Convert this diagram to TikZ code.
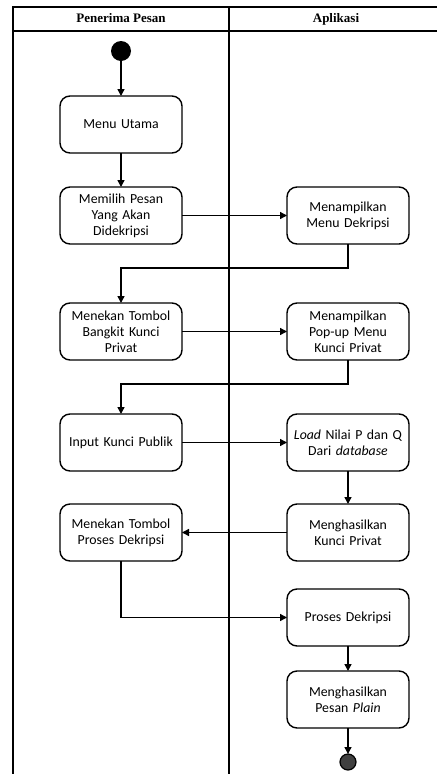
\documentclass[tikz,border=0pt]{standalone}
\usepackage{fontspec}
\setmainfont{Carlito}
\newfontfamily\headfont{Liberation Serif}
\usetikzlibrary{positioning,arrows.meta}

\begin{document}
\begin{tikzpicture}[x=1pt,y=-1pt,font=\fontsize{13.8}{16}\selectfont,
      act/.style={draw,rounded corners=10pt,line width=1.4pt,outer sep=0pt,text width=118pt,minimum width=122pt,minimum height=57pt,align=center,inner sep=2pt,text=black},
      head/.style={font=\headfont\bfseries\fontsize{13}{15}\selectfont,text height=9pt,text depth=2pt},
      arr/.style={-{Triangle[length=7pt,width=7pt]},line width=1.4pt},
      lane/.style={line width=1.7pt}]
    \useasboundingbox (0,0) rectangle (437,774);
    % swimlanes
    \draw[lane] (13,774) -- (13,7) -- (437,7);
    \draw[lane] (13,31) -- (437,31);
    \draw[lane] (229,7) -- (229,774);
    \node[head] (h1) at (121,19) {Penerima Pesan};
    \node[head] (h2) at (336,19) {Aplikasi};
    % penerima pesan
    \node[circle,fill=black,minimum size=20pt,inner sep=0pt,outer sep=0pt] (start) at (121,51) {};
    \node[act,below=35pt of start] (m1) {Menu Utama};
    \node[act,below=34pt of m1] (m2) {Memilih Pesan\\Yang Akan\\Didekripsi};
    \node[act,below=59pt of m2] (m3) {Menekan Tombol\\Bangkit Kunci\\Privat};
    \node[act,below=54pt of m3] (m4) {Input Kunci Publik};
    \node[act,below=33pt of m4] (m5) {Menekan Tombol\\Proses Dekripsi};
    % aplikasi
    \node[act,right=105pt of m2] (a1) {Menampilkan\\Menu Dekripsi};
    \node[act,right=105pt of m3] (a2) {Menampilkan\\Pop-up Menu\\Kunci Privat};
    \node[act,right=105pt of m4] (a3) {\textit{Load} Nilai P dan Q\\Dari \textit{database}};
    \node[act,right=105pt of m5] (a4) {Menghasilkan\\Kunci Privat};
    \node[act,below=28pt of a4] (a5) {Proses Dekripsi};
    \node[act,below=25pt of a5] (a6) {Menghasilkan\\Pesan \textit{Plain}};
    \node[circle,draw=black,fill=black!75,line width=1.2pt,outer sep=0pt,minimum size=16pt,inner sep=0pt,below=26pt of a6] (end) {};
    % alur
    \draw[arr] (start)--(m1); \draw[arr] (m1)--(m2); \draw[arr] (m2)--(a1);
    \draw[arr] (a1.south) -- ++(0,24) -| (m3.north);
    \draw[arr] (m3)--(a2);
    \draw[arr] (a2.south) -- ++(0,24) -| (m4.north);
    \draw[arr] (m4)--(a3); \draw[arr] (a3)--(a4); \draw[arr] (a4)--(m5);
    \draw[arr] (m5.south) |- (a5.west);
    \draw[arr] (a5)--(a6); \draw[arr] (a6)--(end);
  \end{tikzpicture}
\end{document}
